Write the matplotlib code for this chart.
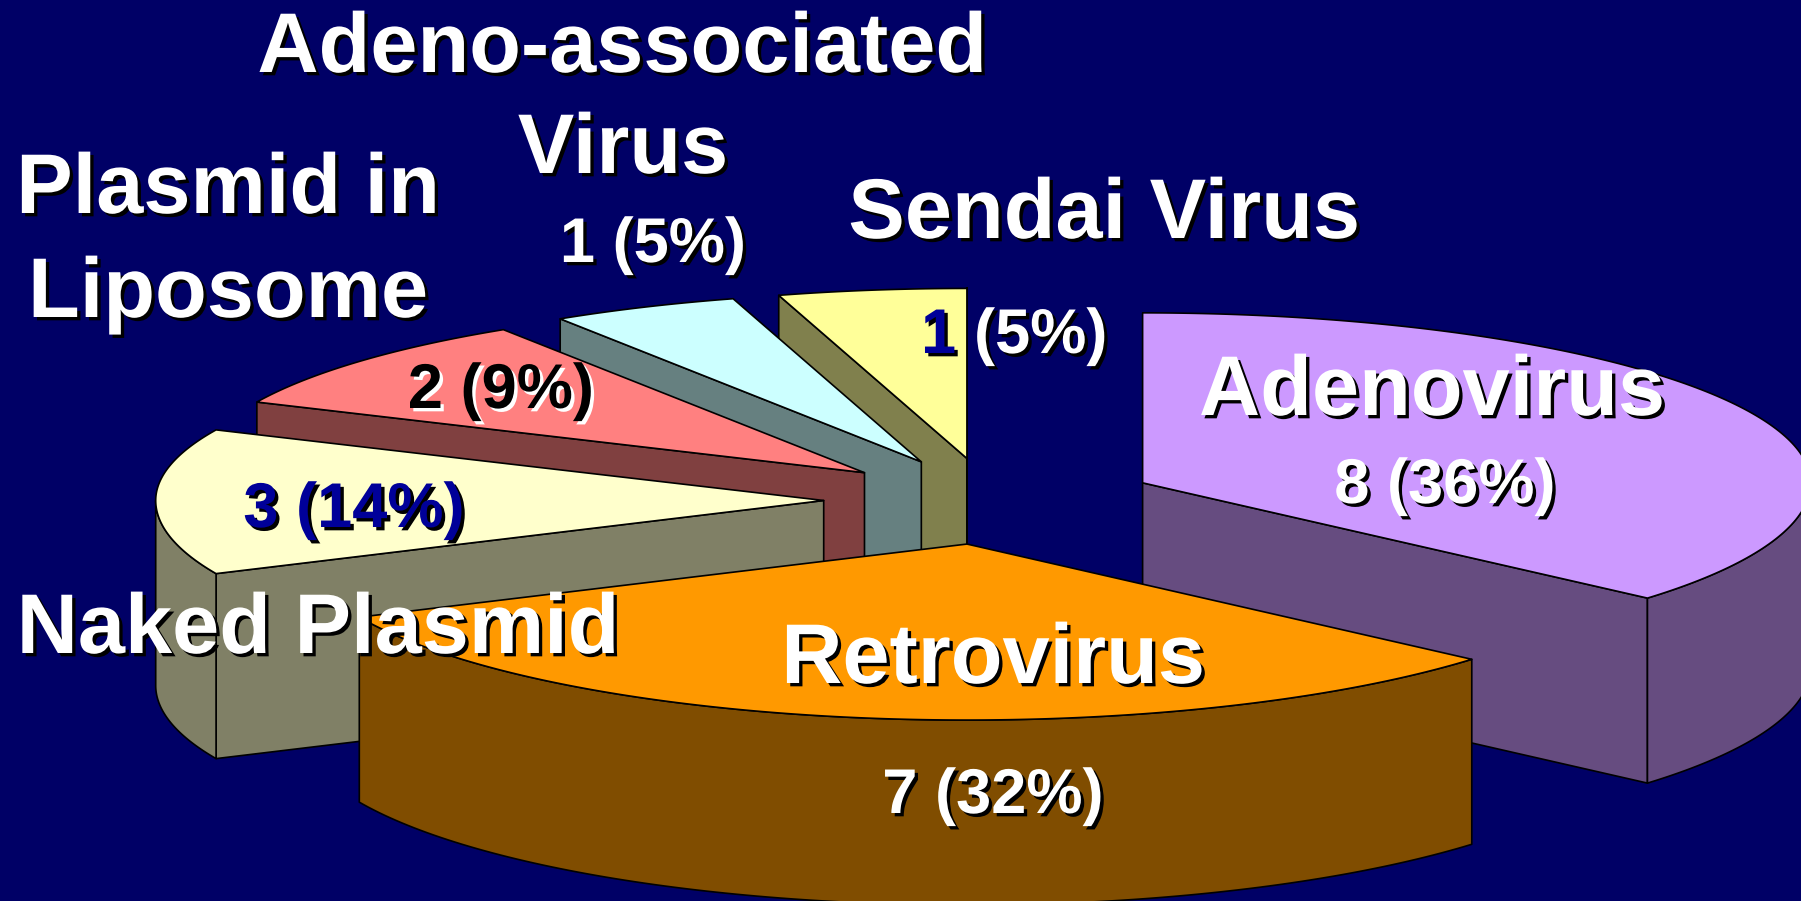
#!/usr/bin/env python3
# -*- coding: utf-8 -*-
"""
Exploded 3D pie of vectors, drawn by hand since matplotlib pie has no depth
"""
import numpy as np
import matplotlib
matplotlib.use('Agg')
import matplotlib.pyplot as plt
import matplotlib.patheffects as pe
from matplotlib.patches import Polygon

# Data, clockwise from 12 o'clock
vectors = ['Adenovirus', 'Retrovirus', 'Naked Plasmid', 'Plasmid in Liposome',
           'Adeno-associated Virus', 'Sendai Virus']
counts  = [8, 7, 3, 2, 1, 1]

top_colors  = ['#CC99FF', '#FF9900', '#FFFFCC', '#FF8080', '#CCFFFF', '#FFFF99']
side_colors = ['#664C80', '#804D00', '#808066', '#804040', '#668080', '#80804D']

# Painter's order, back to front (indexes into the lists above)
draw_order = [5, 4, 3, 2, 0, 1]

# Pie geometry in figure pixels
center_x = 990.7
center_y = 500.5
radius_x = 668.0
radius_back  = 170.0  # the near half of the ellipse comes out a bit deeper
radius_front = 176.0
depth    = 185.0
explode  = 0.25  # fraction of the radius

bg_color = '#000066'
navy     = '#000099'
big_size   = 61
small_size = 45.5

plt.rcParams['font.family'] = ['Liberation Sans', 'DejaVu Sans']

fig = plt.figure(figsize=(18.01, 9.01), dpi=100, facecolor=bg_color)
ax = fig.add_axes([0, 0, 1, 1])
ax.set_xlim(0, 1801)
ax.set_ylim(901, 0)
ax.axis('off')


def squash(y):
    return np.where(y > 0, y * radius_back, y * radius_front)


def project(r, theta, off_x, off_y, z=0.0):
    # theta in degrees clockwise from the back of the pie
    t = np.radians(theta)
    x = off_x + r * np.sin(t)
    return np.column_stack((center_x + radius_x * x,
                            center_y - squash(off_y) - squash(r * np.cos(t))
                            + depth * z))


def add_poly(pts, color):
    ax.add_patch(Polygon(pts, closed=True, facecolor=color, edgecolor='black',
                         linewidth=1.2, joinstyle='round'))


edges = np.concatenate(([0], np.cumsum(counts))) / np.sum(counts) * 360.0

for i in draw_order:
    a0, a1 = edges[i], edges[i + 1]
    mid = np.radians((a0 + a1) / 2)
    off_x = explode * np.sin(mid)
    off_y = explode * np.cos(mid)

    apex_top = project(0.0, np.array([0.0]), off_x, off_y)
    apex_bot = project(0.0, np.array([0.0]), off_x, off_y, 1.0)

    # Cut faces, only the ones turned toward the viewer
    for a, sign in ((a0, 1), (a1, -1)):
        if sign * np.sin(np.radians(a)) < 1e-6:
            rim_top = project(1.0, np.array([a]), off_x, off_y)
            rim_bot = project(1.0, np.array([a]), off_x, off_y, 1.0)
            add_poly(np.vstack((apex_top, rim_top, rim_bot, apex_bot)),
                     side_colors[i])

    # Outer wall, front half of the rim only
    w0, w1 = max(a0, 90.0), min(a1, 270.0)
    if w1 > w0:
        arc = np.linspace(w0, w1, 120)
        wall_top = project(1.0, arc, off_x, off_y)
        wall_bot = project(1.0, arc, off_x, off_y, 1.0)
        add_poly(np.vstack((wall_top, wall_bot[::-1])), side_colors[i])

    # Top surface
    arc = np.linspace(a0, a1, 160)
    add_poly(np.vstack((apex_top, project(1.0, arc, off_x, off_y))),
             top_colors[i])


def label(x, y, s, size, color='white', shadow='black', ha='center', off=2.4):
    ax.text(x, y, s, fontsize=size, fontweight='bold', color=color,
            ha=ha, va='baseline',
            path_effects=[pe.withSimplePatchShadow(offset=(off, -off),
                                                   shadow_rgbFace=shadow,
                                                   alpha=1.0)])


def count_text(i):
    pct = int(round(100.0 * counts[i] / np.sum(counts)))
    return '%d (%d%%)' % (counts[i], pct)


# Adenovirus
label(1432, 415, vectors[0], big_size)
label(1445, 503, count_text(0), small_size)
# Retrovirus
label(993, 683, vectors[1], big_size)
label(993, 813, count_text(1), small_size)
# Naked plasmid
label(318, 653, vectors[2], big_size)
label(354, 527, count_text(2), small_size, color=navy)
# Plasmid in liposome
label(228, 213, 'Plasmid in', big_size)
label(228, 317, 'Liposome', big_size)
label(501, 408, count_text(3), small_size, color='black', shadow='white')
# AAV
label(622, 72, 'Adeno-associated', big_size)
label(623, 173, 'Virus', big_size)
label(653, 262, count_text(4), small_size)
# Sendai, the count sits on the yellow slice and the percent on the background
label(1104, 238, vectors[5], big_size)
sendai = count_text(5).split(' ')
label(921, 353, sendai[0], small_size, color=navy, ha='left')
label(974, 353, sendai[1], small_size, ha='left')

plt.savefig('out.png', dpi=100, facecolor=bg_color)
